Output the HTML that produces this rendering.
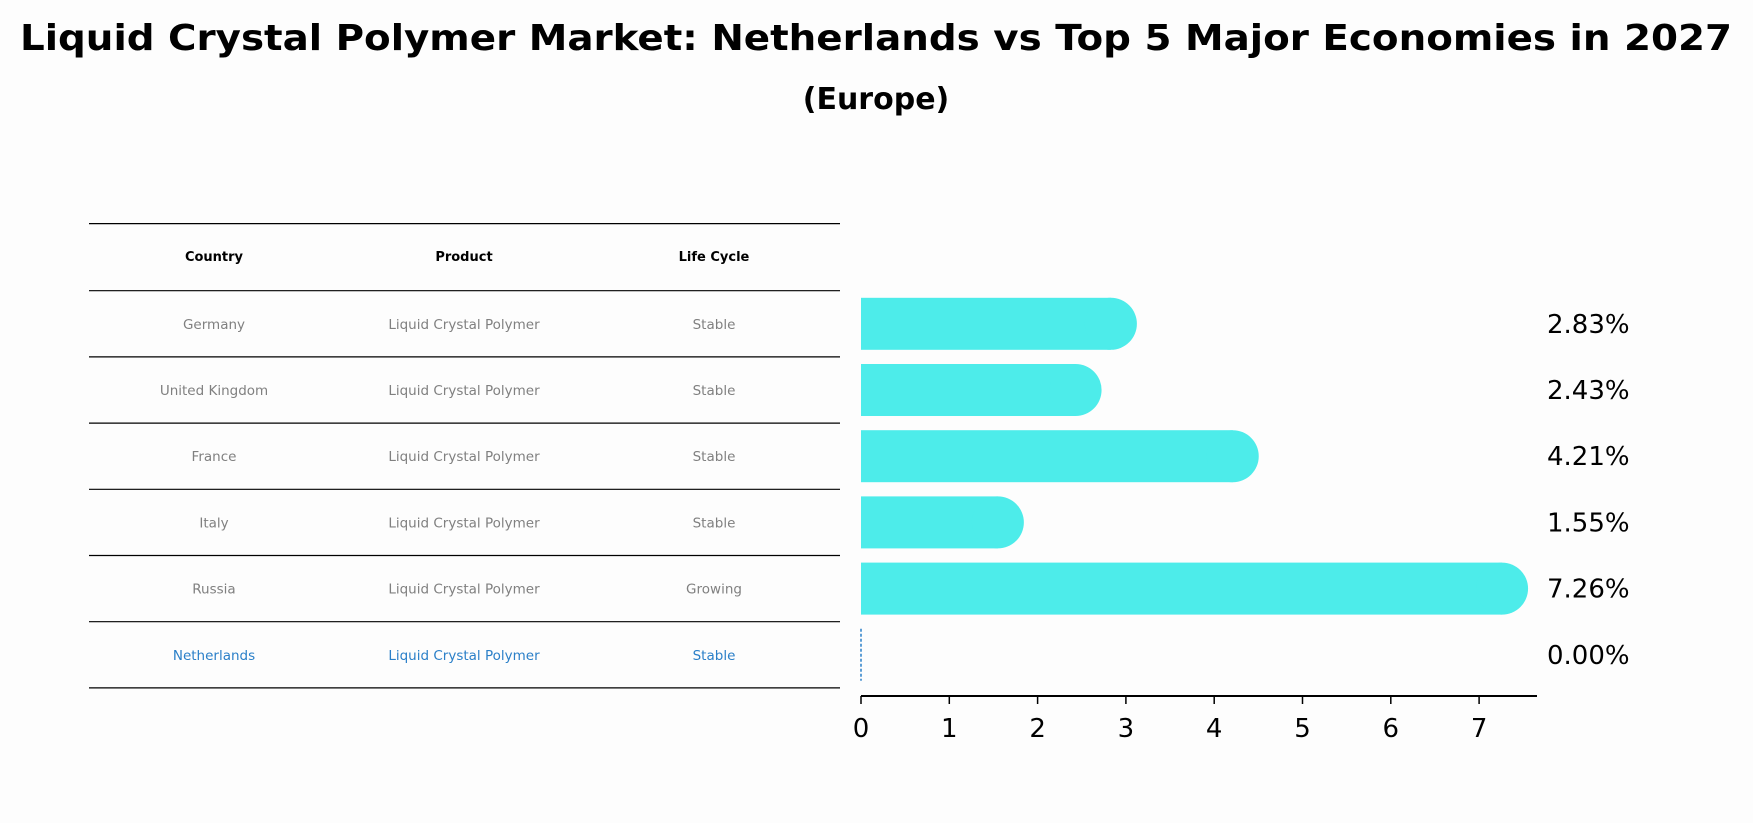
<!DOCTYPE html>
<html><head><meta charset="utf-8"><style>
html,body{margin:0;padding:0;background:#fdfdfd;}
svg{display:block;font-family:"DejaVu Sans","Liberation Sans",sans-serif;}
</style></head><body>
<svg id="chart" width="1753" height="823" viewBox="0 0 1753 823" xmlns="http://www.w3.org/2000/svg">
<rect width="1753" height="823" fill="#fdfdfd"/>
<text x="876" y="50" text-anchor="middle" font-size="36" font-weight="bold" textLength="1712" lengthAdjust="spacingAndGlyphs">Liquid Crystal Polymer Market: Netherlands vs Top 5 Major Economies in 2027</text>
<text x="876" y="109" text-anchor="middle" font-size="30" font-weight="bold">(Europe)</text>
<g id="table"></g>
<g id="bars"></g>
<g id="axis"></g>
</svg>
<script>
const countries = ["Germany","United Kingdom","France","Italy","Russia","Netherlands"];
const products = ["Liquid Crystal Polymer","Liquid Crystal Polymer","Liquid Crystal Polymer","Liquid Crystal Polymer","Liquid Crystal Polymer","Liquid Crystal Polymer"];
const lifeCycles = ["Stable","Stable","Stable","Stable","Growing","Stable"];
const values = [2.83,2.43,4.21,1.55,7.26,0.00];
const valueLabels = ["2.83%","2.43%","4.21%","1.55%","7.26%","0.00%"];
const ticks = [0,1,2,3,4,5,6,7];

const NS = "http://www.w3.org/2000/svg";
function mk(tag, attrs, parent){const e=document.createElementNS(NS,tag);for(const k in attrs)e.setAttribute(k,attrs[k]);parent.appendChild(e);return e;}
const x0 = 861, unit = 88.3;
function xs(v){return x0 + v*unit;}
const rowTop = 290.7, rowH = 66.2;
function rowY(i){return rowTop + rowH*(i+0.5);}
const colX = [214,464,714];

const table = document.getElementById('table');
// lines
for(let i=0;i<=countries.length+1;i++){
  const y = i===0 ? 223.6 : rowTop + rowH*(i-1);
  const l = mk('line',{x1:89,x2:840,y1:y,y2:y,stroke:'#000','stroke-width':1.2},table);
  
  
}
const heads = ["Country","Product","Life Cycle"];
heads.forEach((h,j)=>{
  const t = mk('text',{x:colX[j],y:261,'text-anchor':'middle','font-size':13,'font-weight':'bold'},table);
  t.textContent = h;
  
  
});
countries.forEach((c,i)=>{
  const col = c==="Netherlands" ? "#2a7fc8" : "#808080";
  [c,products[i],lifeCycles[i]].forEach((s,j)=>{
    const t = mk('text',{x:colX[j],y:rowY(i)+5,'text-anchor':'middle','font-size':13.5,fill:col},table);
    t.textContent = s;
    
    
  });
});

const bars = document.getElementById('bars');
const bh = 52, barColor = '#4decea';
values.forEach((v,i)=>{
  const cy = rowY(i);
  if(v>0){
    const r = mk('rect',{x:x0,y:cy-bh/2,width:xs(v)-x0,height:bh,fill:barColor},bars);
    
    
    const c = mk('circle',{cx:xs(v),cy:cy,r:bh/2,fill:barColor},bars);
    
    
  } else {
    const l = mk('line',{x1:xs(v),x2:xs(v),y1:cy-bh/2,y2:cy+bh/2,stroke:'#2a7fc8','stroke-width':1.5,'stroke-dasharray':'3,2'},bars);
    
    
  }
  const t = mk('text',{x:1547,y:cy+9,'font-size':26},bars);
  t.textContent = valueLabels[i];
  
  
});

const axis = document.getElementById('axis');
const ay = 696;
const al = mk('line',{x1:x0,x2:1537,y1:ay,y2:ay,stroke:'#000','stroke-width':2},axis);


ticks.forEach(v=>{
  const tl = mk('line',{x1:xs(v),x2:xs(v),y1:ay,y2:ay+8,stroke:'#000','stroke-width':1.5},axis);
  
  
  const t = mk('text',{x:xs(v),y:737,'text-anchor':'middle','font-size':26},axis);
  t.textContent = v;
  
  
});
</script>
</body></html>
